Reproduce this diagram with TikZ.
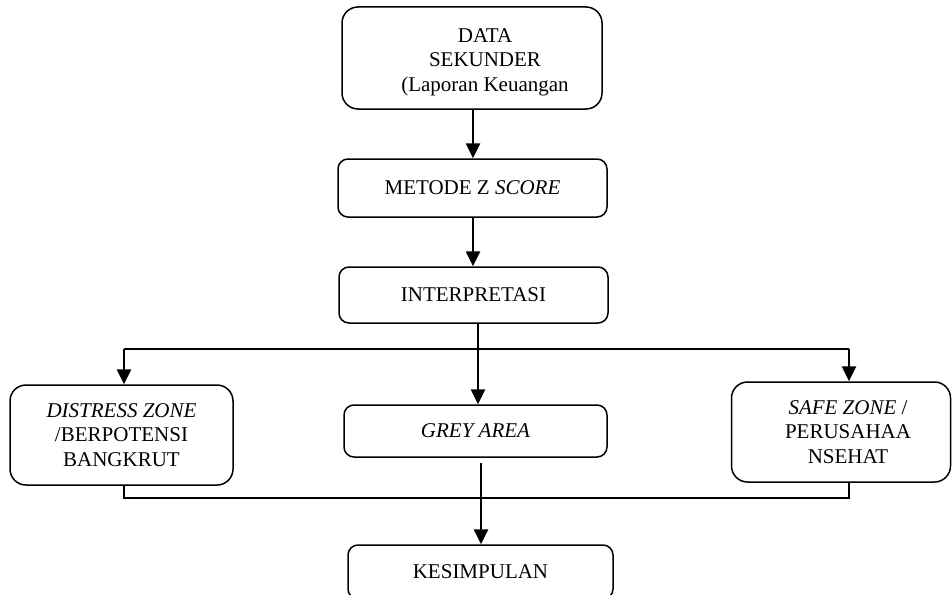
\documentclass[tikz,border=0pt]{standalone}
\usepackage{fontspec}
\setmainfont{Liberation Serif}
\usetikzlibrary{arrows.meta}
\begin{document}
\begin{tikzpicture}[x=1pt,y=-1pt,
  txt/.style={align=center, inner sep=0pt, font=\fontsize{21}{24.5}\selectfont},
  box/.style={draw, line width=1.5pt, rounded corners=10pt, txt},
  bigbox/.style={box, rounded corners=16pt},
  arr/.style={line width=2.6pt, -{Triangle[length=15pt,width=14pt]}},
  conn/.style={line width=1.4pt}]
\useasboundingbox (0,0) rectangle (952,594);
\clip (0,0) rectangle (952,594);
\node[bigbox, minimum width=260pt, minimum height=102pt,
  label={[txt, xshift=13pt, yshift=-4pt]center:DATA\\SEKUNDER\\(Laporan Keuangan}] (data) at (472,58) {};
\node[box, minimum width=269pt, minimum height=58pt] (metode) at (472.5,188)
  {METODE Z \textit{SCORE}};
\node[box, minimum width=269pt, minimum height=56pt] (interp) at (473.5,295)
  {INTERPRETASI};
\node[bigbox, minimum width=223pt, minimum height=100pt] (distress) at (121.5,435)
  {\textit{DISTRESS ZONE}\\/BERPOTENSI\\BANGKRUT};
\node[box, minimum width=263pt, minimum height=52pt] (grey) at (475.5,431)
  {\textit{GREY AREA}};
\node[bigbox, minimum width=219pt, minimum height=100pt,
  label={[txt, xshift=7pt]center:\textit{SAFE ZONE} /\\PERUSAHAA\\NSEHAT}] (safe) at (841,432) {};
\node[box, minimum width=265pt, minimum height=54pt] (kes) at (480.5,572)
  {KESIMPULAN};
\coordinate (hl) at (124,349);
\coordinate (hr) at (849,349);
\coordinate (bl) at (124,498);
\coordinate (br) at (849,498);
\draw[arr] (data.south -| 473,0) -- (metode.north -| 473,0);
\draw[arr] (metode.south -| 473,0) -- (interp.north -| 473,0);
\draw[conn] (hl) -- (hr);
\draw[arr] (interp.south -| 478,0) -- (grey.north -| 478,0);
\draw[arr] (hl) -- (hl |- distress.north);
\draw[arr] (hr) -- (hr |- safe.north);
\draw[conn] (bl |- distress.south) -- (bl) -- (br) -- (br |- safe.south);
\draw[arr] ([yshift=-5pt]grey.south -| 481,0) -- (kes.north -| 481,0);
\end{tikzpicture}
\end{document}
